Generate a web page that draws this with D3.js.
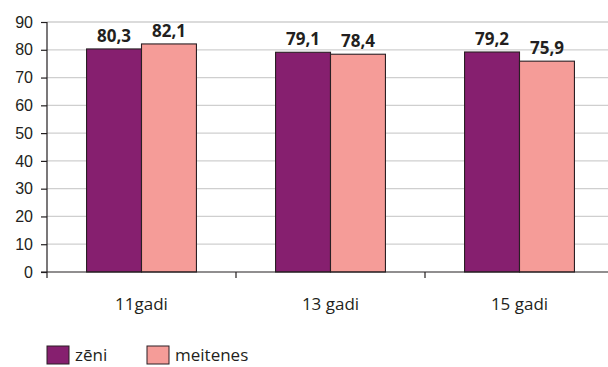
<!DOCTYPE html>
<html>
<head>
<meta charset="utf-8">
<script src="https://cdn.jsdelivr.net/npm/d3@7"></script>
<style>
  html, body { margin: 0; padding: 0; background: #fff; }
  svg { display: block; font-family: "Open Sans", "Noto Sans", sans-serif; }
</style>
</head>
<body>
<svg id="chart" width="608" height="367"></svg>
<script>
// Age groups and average values by gender
const categories = ["11gadi", "13 gadi", "15 gadi"];
const seriesNames = ["zēni", "meitenes"];
const boys = [80.3, 79.1, 79.2];
const girls = [82.1, 78.4, 75.9];
const yTicks = [0, 10, 20, 30, 40, 50, 60, 70, 80, 90];
const colors = ["#861f6f", "#f59c98"];

const svg = d3.select("#chart");
const plotLeft = 47, plotTop = 22, plotBottom = 272, plotRight = 614;

const x = d3.scaleBand().domain(categories).range([plotLeft, plotRight]).paddingInner(0).paddingOuter(0);
const inner = d3.scaleBand().domain(seriesNames).range([0, x.bandwidth()]).paddingInner(0).paddingOuter(0.72);
const y = d3.scaleLinear().domain([0, 90]).range([plotBottom, plotTop]);

// Horizontal gridlines
svg.append("g")
  .selectAll("line")
  .data(yTicks.filter(d => d > 0))
  .join("line")
  .attr("x1", plotLeft).attr("x2", 608)
  .attr("y1", d => y(d)).attr("y2", d => y(d))
  .attr("stroke", "#cfcfcf").attr("stroke-width", 1.3);

const rows = categories.map((c, i) => ({ cat: c, values: [boys[i], girls[i]] }));

// Bars
const groups = svg.append("g").selectAll("g")
  .data(rows).join("g")
  .attr("transform", d => `translate(${x(d.cat)},0)`);

groups.selectAll("rect")
  .data(d => d.values.map((v, k) => ({ name: seriesNames[k], v, k })))
  .join("rect")
  .attr("x", d => inner(d.name))
  .attr("width", inner.bandwidth())
  .attr("y", d => y(d.v))
  .attr("height", d => y(0) - y(d.v))
  .attr("fill", d => colors[d.k])
  .attr("stroke", "#2a1f24").attr("stroke-width", 1.1);

// Value labels
groups.selectAll("text")
  .data(d => d.values.map((v, k) => ({ name: seriesNames[k], v, k })))
  .join("text")
  .attr("x", d => inner(d.name) + inner.bandwidth() / 2)
  .attr("y", d => y(d.v) - 7)
  .attr("text-anchor", "middle")
  .attr("font-size", 17).attr("font-weight", "bold").attr("fill", "#231f20")
  .text(d => d3.format(".1f")(d.v).replace(".", ","));

// Y axis
const yAxis = d3.axisLeft(y).tickValues(yTicks).tickSize(6).tickPadding(8);
const gy = svg.append("g").attr("transform", `translate(${plotLeft},0)`).call(yAxis);
gy.select(".domain").attr("stroke", "#231f20").attr("stroke-width", 1.2).attr("d", `M0,${plotTop}V${plotBottom}`);
gy.selectAll(".tick line").attr("stroke", "#231f20").attr("stroke-width", 1.2);
gy.selectAll(".tick text").attr("font-size", 16).attr("fill", "#231f20").attr("font-family", "inherit");

// X axis with ticks at category boundaries
svg.append("line")
  .attr("x1", plotLeft - 6).attr("x2", 608)
  .attr("y1", plotBottom).attr("y2", plotBottom)
  .attr("stroke", "#231f20").attr("stroke-width", 1.2);
svg.append("g").selectAll("line")
  .data(categories)
  .join("line")
  .attr("x1", d => x(d)).attr("x2", d => x(d))
  .attr("y1", plotBottom).attr("y2", plotBottom + 6)
  .attr("stroke", "#231f20").attr("stroke-width", 1.2);
svg.append("g").selectAll("text")
  .data(categories)
  .join("text")
  .attr("x", d => x(d) + x.bandwidth() / 2)
  .attr("y", 310)
  .attr("text-anchor", "middle")
  .attr("font-size", 17).attr("fill", "#231f20")
  .text(d => d);

// Legend
const legend = svg.append("g").selectAll("g")
  .data(seriesNames).join("g")
  .attr("transform", (d, i) => `translate(${47 + i * 100},346)`);
legend.append("rect")
  .attr("width", 22).attr("height", 18)
  .attr("fill", (d, i) => colors[i])
  .attr("stroke", "#2a1f24").attr("stroke-width", 1);
legend.append("text")
  .attr("x", 28).attr("y", 15)
  .attr("font-size", 17).attr("fill", "#231f20")
  .text(d => d);
</script>
</body>
</html>
